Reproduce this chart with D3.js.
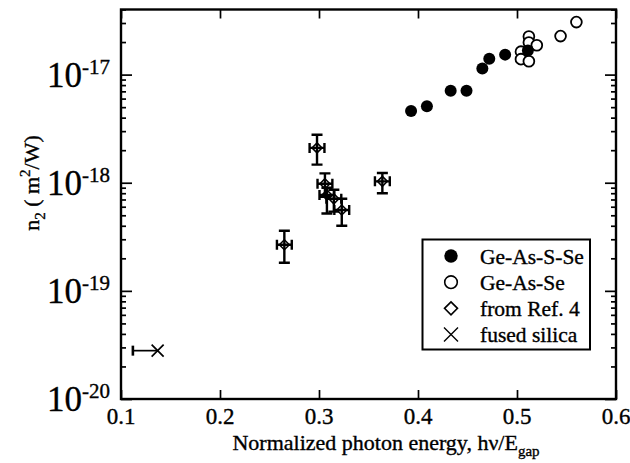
<!DOCTYPE html>
<html>
<head>
<meta charset="utf-8">
<script src="https://cdn.jsdelivr.net/npm/d3@7"></script>
<style>
  body { margin: 0; background: #fff; }
  text { font-family: 'Liberation Serif', 'Times New Roman', serif; fill: #000; stroke: #000; stroke-width: 0.35px; }
</style>
</head>
<body>
<svg id="chart" width="630" height="463"></svg>
<script>
// tick values
const xTicks = [0.1, 0.2, 0.3, 0.4, 0.5, 0.6]
const yDecades = [-20, -19, -18, -17]

// Ge-As-S-Se (filled circles)
const gassX = [0.393, 0.409, 0.433, 0.449, 0.465, 0.472, 0.488, 0.511]
const gassY = [4.6e-18, 5.1e-18, 7.1e-18, 7.1e-18, 1.14e-17, 1.4e-17, 1.53e-17, 1.67e-17]

// Ge-As-Se (open circles)
const gasX = [0.560, 0.544, 0.512, 0.512, 0.520, 0.504, 0.504, 0.512]
const gasY = [3.06e-17, 2.27e-17, 2.25e-17, 1.98e-17, 1.87e-17, 1.63e-17, 1.39e-17, 1.33e-17]

// from Ref. 4 (diamonds with error bars)
const refX = [0.298, 0.364, 0.265, 0.306, 0.308, 0.315, 0.323]
const refY = [2.1e-18, 1.03e-18, 2.67e-19, 9.8e-19, 7.7e-19, 7.1e-19, 5.6e-19]
const refYLo = [1.47e-18, 8.0e-19, 1.82e-19, 7.4e-19, 5.2e-19, 5.4e-19, 4.0e-19]
const refYHi = [2.78e-18, 1.23e-18, 3.6e-19, 1.22e-18, 9.0e-19, 8.6e-19, 7.1e-19]
const refXErr = [0.0075, 0.0075, 0.0075, 0.0075, 0.0075, 0.0075, 0.0075]

// fused silica
const silicaX = [0.137]
const silicaY = [2.8e-20]
const silicaXLo = [0.112]

const legendLabels = ['Ge-As-S-Se', 'Ge-As-Se', 'from Ref. 4', 'fused silica']

const mLeft = 121, mRight = 616, mTop = 9.5, mBottom = 399

const x = d3.scaleLinear().domain([0.1, 0.6]).range([mLeft, mRight])
const y = d3.scaleLog().domain([1e-20, 4e-17]).range([mBottom, mTop])

const svg = d3.select('#chart')

// minor ticks 2..9 in each decade
const yMinor = []
yDecades.forEach(p => {
  for (let m = 2; m <= 9; m++) {
    const v = m * Math.pow(10, p)
    if (v <= 4e-17) yMinor.push(v)
  }
})
const yMajor = yDecades.map(p => Math.pow(10, p))

const styleAxis = g => {
  g.select('.domain').remove()
  g.selectAll('.tick line').attr('stroke', '#000').attr('stroke-width', 1.7)
  g.selectAll('.tick text').remove()
}

svg.append('g').attr('transform', `translate(0,${mBottom})`)
  .call(d3.axisBottom(x).tickValues(xTicks).tickSizeInner(-9).tickSizeOuter(0))
  .call(styleAxis)
svg.append('g').attr('transform', `translate(0,${mTop})`)
  .call(d3.axisTop(x).tickValues(xTicks).tickSizeInner(-9).tickSizeOuter(0))
  .call(styleAxis)
svg.append('g').attr('transform', `translate(${mLeft},0)`)
  .call(d3.axisLeft(y).tickValues(yMajor).tickSizeInner(-11).tickSizeOuter(0))
  .call(styleAxis)
svg.append('g').attr('transform', `translate(${mLeft},0)`)
  .call(d3.axisLeft(y).tickValues(yMinor).tickSizeInner(-5).tickSizeOuter(0))
  .call(styleAxis)
svg.append('g').attr('transform', `translate(${mRight},0)`)
  .call(d3.axisRight(y).tickValues(yMajor).tickSizeInner(-11).tickSizeOuter(0))
  .call(styleAxis)
svg.append('g').attr('transform', `translate(${mRight},0)`)
  .call(d3.axisRight(y).tickValues(yMinor).tickSizeInner(-5).tickSizeOuter(0))
  .call(styleAxis)

// frame
svg.append('rect')
  .attr('x', mLeft).attr('y', mTop)
  .attr('width', mRight - mLeft).attr('height', mBottom - mTop)
  .attr('fill', 'none').attr('stroke', '#000').attr('stroke-width', 2.4)

// x tick labels
svg.selectAll('.xlab')
  .data(xTicks)
  .enter()
  .append('text')
  .attr('x', d => x(d))
  .attr('y', mBottom + 25)
  .attr('text-anchor', 'middle')
  .attr('font-size', 23)
  .text(d => d3.format('.1f')(d))

// y tick labels 10^n
const ylab = svg.selectAll('.ylab')
  .data(yDecades)
  .enter()
  .append('text')
  .attr('x', 110)
  .attr('y', d => y(Math.pow(10, d)) + 12)
  .attr('text-anchor', 'end')
ylab.append('tspan').attr('font-size', 35).text('10')
ylab.append('tspan').attr('font-size', 21).attr('dy', -13).text(d => d)

// axis titles
const xt = svg.append('text')
  .attr('x', 386).attr('y', 450)
  .attr('text-anchor', 'middle')
  .attr('font-size', 22)
xt.append('tspan').text('Normalized photon energy, h\u03bd/E')
xt.append('tspan').attr('font-size', 15).attr('dy', 6).text('gap')

const yt = svg.append('text')
  .attr('transform', 'translate(39,183) rotate(-90)')
  .attr('text-anchor', 'middle')
  .attr('font-size', 22)
yt.append('tspan').text('n')
yt.append('tspan').attr('font-size', 15).attr('dy', 6).text('2')
yt.append('tspan').attr('dy', -6).text(' ( m')
yt.append('tspan').attr('font-size', 15).attr('dy', -9).text('2')
yt.append('tspan').attr('dy', 9).text('/W)')

// fused silica: half error bar + cross
const silica = svg.append('g').attr('stroke', '#000').attr('stroke-width', 1.7)
silica.selectAll('.bar')
  .data(silicaX)
  .enter()
  .append('line')
  .attr('x1', (d, i) => x(silicaXLo[i])).attr('x2', d => x(d))
  .attr('y1', (d, i) => y(silicaY[i])).attr('y2', (d, i) => y(silicaY[i]))
silica.selectAll('.cap')
  .data(silicaX)
  .enter()
  .append('line')
  .attr('stroke-width', 2.6)
  .attr('x1', (d, i) => x(silicaXLo[i])).attr('x2', (d, i) => x(silicaXLo[i]))
  .attr('y1', (d, i) => y(silicaY[i]) - 5).attr('y2', (d, i) => y(silicaY[i]) + 5)
silica.selectAll('.mark')
  .data(silicaX)
  .enter()
  .append('path')
  .attr('d', (d, i) => {
    const cx = x(d), cy = y(silicaY[i]), s = 6
    return `M${cx - s},${cy - s}L${cx + s},${cy + s}M${cx - s},${cy + s}L${cx + s},${cy - s}`
  })

// Ref. 4 points with error bars
const ref = svg.append('g').attr('stroke', '#000')
ref.selectAll('.dia')
  .data(refX)
  .enter()
  .append('path')
  .attr('fill', '#fff').attr('stroke-width', 1.5)
  .attr('d', (d, i) => {
    const cx = x(d), cy = y(refY[i]), s = 5
    return `M${cx},${cy - s}L${cx + s},${cy}L${cx},${cy + s}L${cx - s},${cy}Z`
  })
ref.selectAll('.vbar')
  .data(refX)
  .enter()
  .append('path')
  .attr('fill', 'none').attr('stroke-width', 2.4)
  .attr('d', (d, i) => {
    const cx = x(d), lo = y(refYLo[i]), hi = y(refYHi[i])
    return `M${cx},${lo}L${cx},${hi}M${cx - 5.5},${lo}L${cx + 5.5},${lo}M${cx - 5.5},${hi}L${cx + 5.5},${hi}`
  })
ref.selectAll('.hbar')
  .data(refX)
  .enter()
  .append('path')
  .attr('fill', 'none').attr('stroke-width', 2.4)
  .attr('d', (d, i) => {
    const cy = y(refY[i]), l = x(d - refXErr[i]), r = x(d + refXErr[i])
    return `M${l},${cy}L${r},${cy}M${l},${cy - 5}L${l},${cy + 5}M${r},${cy - 5}L${r},${cy + 5}`
  })

// Ge-As-Se open circles, then Ge-As-S-Se filled on top
svg.selectAll('.gas')
  .data(gasX)
  .enter()
  .append('circle')
  .attr('cx', d => x(d)).attr('cy', (d, i) => y(gasY[i]))
  .attr('r', 5.4)
  .attr('fill', '#fff').attr('stroke', '#000').attr('stroke-width', 1.8)

svg.selectAll('.gass')
  .data(gassX)
  .enter()
  .append('circle')
  .attr('cx', d => x(d)).attr('cy', (d, i) => y(gassY[i]))
  .attr('r', 6)
  .attr('fill', '#000')

// legend
const lg = svg.append('g')
lg.append('rect')
  .attr('x', 422.5).attr('y', 239.5).attr('width', 167.5).attr('height', 110)
  .attr('fill', '#fff').attr('stroke', '#000').attr('stroke-width', 2)
const row = d3.scalePoint().domain(legendLabels).range([256, 334.5])
const sx = 451
lg.append('circle').attr('cx', sx).attr('cy', row(legendLabels[0])).attr('r', 6.7).attr('fill', '#000')
lg.append('circle').attr('cx', sx).attr('cy', row(legendLabels[1])).attr('r', 6.3)
  .attr('fill', 'none').attr('stroke', '#000').attr('stroke-width', 1.6)
lg.append('path')
  .attr('d', () => {
    const cy = row(legendLabels[2])
    return `M${sx},${cy - 6.5}L${sx + 6.5},${cy}L${sx},${cy + 6.5}L${sx - 6.5},${cy}Z`
  })
  .attr('fill', 'none').attr('stroke', '#000').attr('stroke-width', 1.6)
lg.append('path')
  .attr('d', () => {
    const cy = row(legendLabels[3]), s = 7
    return `M${sx - s},${cy - s}L${sx + s},${cy + s}M${sx - s},${cy + s}L${sx + s},${cy - s}`
  })
  .attr('stroke', '#000').attr('stroke-width', 1.4)
lg.selectAll('.lt')
  .data(legendLabels)
  .enter()
  .append('text')
  .attr('x', 480)
  .attr('y', d => row(d) + 7.5)
  .attr('font-size', 21.5)
  .text(d => d)
</script>
</body>
</html>
